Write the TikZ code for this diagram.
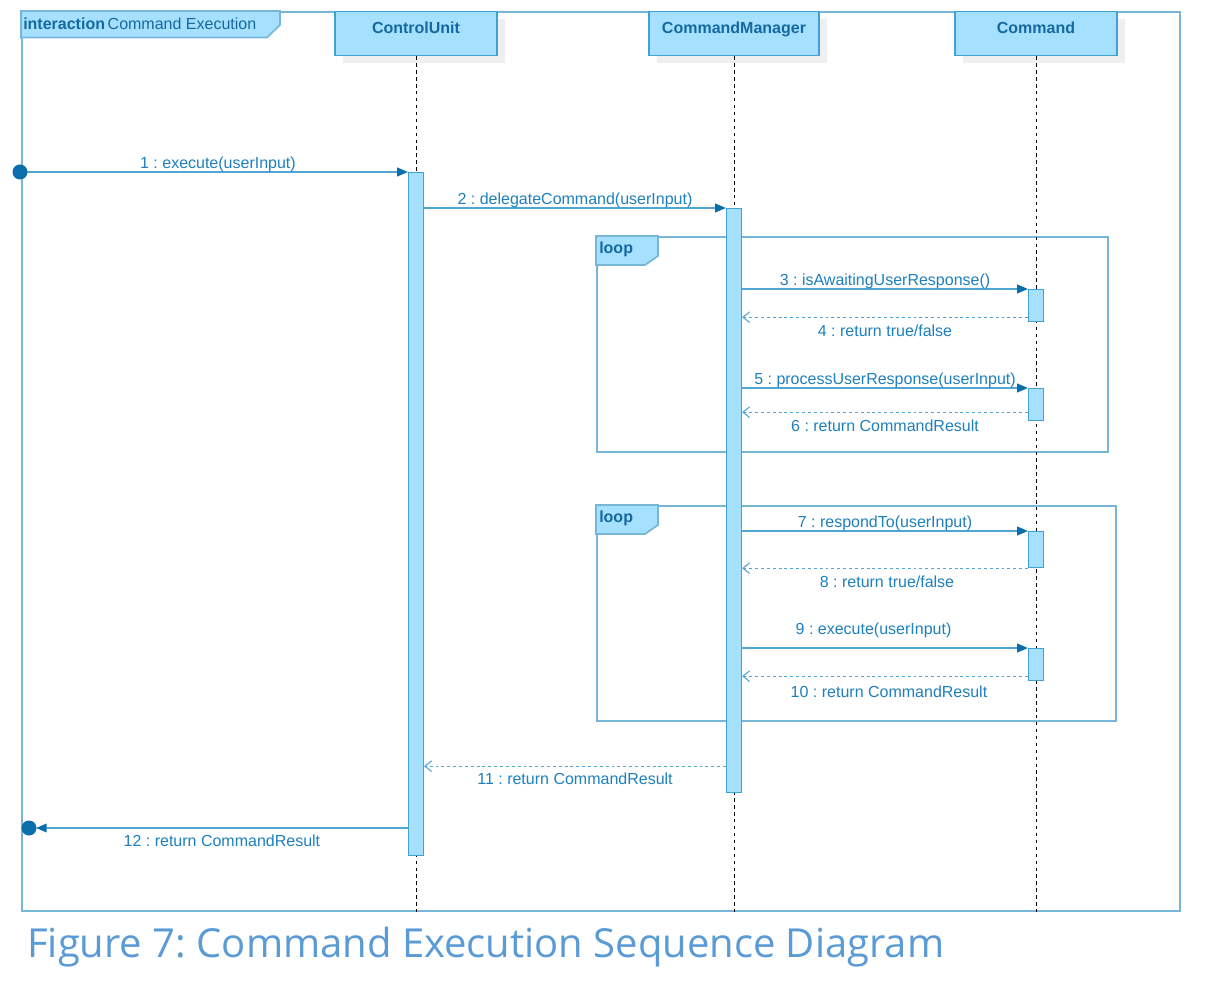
\documentclass[tikz,border=0pt]{standalone}
\usepackage{fontspec}
\setmainfont{Liberation Sans}
\newfontfamily\capfont{Open Sans}
\usepackage{graphicx}
\usetikzlibrary{arrows.meta,calc,shadows}
\definecolor{framec}{RGB}{120,182,216}
\definecolor{linec}{RGB}{80,165,212}
\definecolor{tipc}{RGB}{10,110,170}
\definecolor{txtc}{RGB}{30,128,190}
\definecolor{headc}{RGB}{20,105,160}
\definecolor{fillc}{RGB}{166,224,255}
\definecolor{boxc}{RGB}{65,160,212}
\definecolor{shadc}{RGB}{239,239,239}
\definecolor{capc}{RGB}{91,155,213}
\frenchspacing
\begin{document}
\begin{tikzpicture}[x=0.75pt,y=-0.75pt,
  headbox/.style={draw=boxc, line width=1pt, fill=fillc, minimum height=33pt, inner sep=0pt,
    text height=16.3pt, text depth=16.7pt, anchor=north, font=\bfseries\fontsize{12}{14}\selectfont,
    text=headc, general shadow={fill=shadc, shadow xshift=6pt, shadow yshift=-5.25pt}},
  lifeline/.style={black, line width=0.6pt, dash pattern=on 2.6pt off 2.6pt},
  actbar/.style={draw=boxc, line width=0.9pt, fill=fillc, minimum width=11.25pt, inner sep=0pt, anchor=north},
  msgline/.style={draw=linec, line width=1.1pt, -{Triangle[length=8pt,width=6.5pt,color=tipc]}},
  retline/.style={draw=linec, line width=1pt, dash pattern=on 2.2pt off 2.2pt,
    -{Straight Barb[length=5pt,width=8pt,line width=0.8pt]}},
  msglab/.style={font=\frenchspacing\fontsize{12}{14}\selectfont, text=txtc, inner sep=0pt, text height=11.6pt, text depth=3pt},
  framebox/.style={draw=framec, line width=1.3pt, inner sep=0pt, anchor=north west},
  tabshape/.style={draw=framec, line width=1.3pt, fill=fillc},
  enddot/.style={circle, fill=tipc, inner sep=0pt, minimum size=11.25pt},
  tablab/.style={font=\fontsize{12}{14}\selectfont, text=headc, inner sep=0pt, anchor=west}
]
\fill[white] (0,0) rectangle (1224,994);
\useasboundingbox (0,0) rectangle (1224,994);

% outer frame
\node[framebox, minimum width=868.5pt, minimum height=674.25pt] (outer) at (21,11) {};
\draw[tabshape] (outer.north west) -- ++(259,0) -- ++(0,14) -- ++(-13,12.5) -- (outer.north west |- 0,37.5) -- cycle;
\node[tablab] (title) at (23,24) {\textbf{interaction}\hspace{2pt}Command Execution};

% loops
\node[framebox, minimum width=383.25pt, minimum height=161.25pt] (loop1) at (596,236) {};
\draw[tabshape] (loop1.north west) -- ++(62,0) -- ++(0,20) -- ++(-13,9) -- ++(-49,0) -- cycle;
\node[tablab] (loop1lab) at ($(loop1.north west)+(3,13)$) {\textbf{loop}};
\node[framebox, minimum width=389.25pt, minimum height=161.25pt] (loop2) at (596,505) {};
\draw[tabshape] (loop2.north west) -- ++(62,0) -- ++(0,20) -- ++(-13,9) -- ++(-49,0) -- cycle;
\node[tablab] (loop2lab) at ($(loop2.north west)+(3,13)$) {\textbf{loop}};

% heads
\node[headbox, minimum width=121.5pt] (cu) at (416,11) {ControlUnit};
\node[headbox, minimum width=127.5pt] (cm) at (734,11) {CommandManager};
\node[headbox, minimum width=121.5pt] (cmd) at (1036,11) {Command};

% lifelines
\draw[lifeline] (cu.south) -- (cu.south |- outer.south);
\draw[lifeline] (cm.south) -- (cm.south |- outer.south);
\draw[lifeline] (cmd.south) -- (cmd.south |- outer.south);

% activations
\node[actbar, minimum height=512.25pt] (a1) at (416,172) {};
\node[actbar, minimum height=438pt] (a2) at (734,208) {};
\node[actbar, minimum height=24pt] (c1) at (1036,289) {};
\node[actbar, minimum height=24pt] (c2) at (1036,388) {};
\node[actbar, minimum height=27pt] (c3) at (1036,531) {};
\node[actbar, minimum height=24pt] (c4) at (1036,648) {};

% end points of found / lost messages
\coordinate (startc) at (20,172);
\coordinate (finishc) at (29,828);

% messages
\draw[msgline] (startc) -- (startc -| a1.west)
  node[msglab, midway, xshift=3pt, yshift=6.75pt] {1 : execute(userInput)};
\draw[msgline] (a1.east |- a2.north) -- (a2.north west)
  node[msglab, midway, yshift=6.75pt] {2 : delegateCommand(userInput)};
\draw[msgline] (a2.east |- c1.north) -- (c1.north west)
  node[msglab, midway, yshift=6.75pt] {3 : isAwaitingUserResponse()};
\path (c1.south west) ++(0,-5) coordinate (r4);
\draw[retline] (r4) -- (r4 -| a2.east)
  node[msglab, midway, yshift=-10.5pt] {4 : return true/false};
\draw[msgline] (a2.east |- c2.north) -- (c2.north west)
  node[msglab, midway, yshift=6.75pt] {5 : processUserResponse(userInput)};
\path (c2.south west) ++(0,-9) coordinate (r6);
\draw[retline] (r6) -- (r6 -| a2.east)
  node[msglab, midway, yshift=-10.5pt] {6 : return CommandResult};
\draw[msgline] (a2.east |- c3.north) -- (c3.north west)
  node[msglab, midway, yshift=6.75pt] {7 : respondTo(userInput)};
\path (c3.south west) ++(0,0) coordinate (r8);
\draw[retline] (r8) -- (r8 -| a2.east)
  node[msglab, midway, xshift=1.5pt, yshift=-10.5pt] {8 : return true/false};
\draw[msgline] (a2.east |- c4.north) -- (c4.north west)
  node[msglab, midway, xshift=-8.6pt, yshift=14.25pt] {9 : execute(userInput)};
\path (c4.south west) ++(0,-5) coordinate (r10);
\draw[retline] (r10) -- (r10 -| a2.east)
  node[msglab, midway, xshift=3pt, yshift=-12pt] {10 : return CommandResult};
\path (a2.south west) ++(0,-27) coordinate (r11);
\draw[retline] (r11) -- (r11 -| a1.east)
  node[msglab, midway, yshift=-9.75pt] {11 : return CommandResult};
\draw[msgline] (finishc -| a1.west) -- ($(finishc)+(7,0)$)
  node[msglab, midway, yshift=-9.75pt] {12 : return CommandResult};

% dots
\node[enddot] (start) at (startc) {};
\node[enddot] (finish) at (finishc) {};

% caption
\node[anchor=base west, inner sep=0pt, text=capc] (caption) at (27,957)
  {\resizebox{687.75pt}{!}{\capfont\fontsize{30}{36}\selectfont Figure 7: Command Execution Sequence Diagram}};
\end{tikzpicture}
\end{document}
